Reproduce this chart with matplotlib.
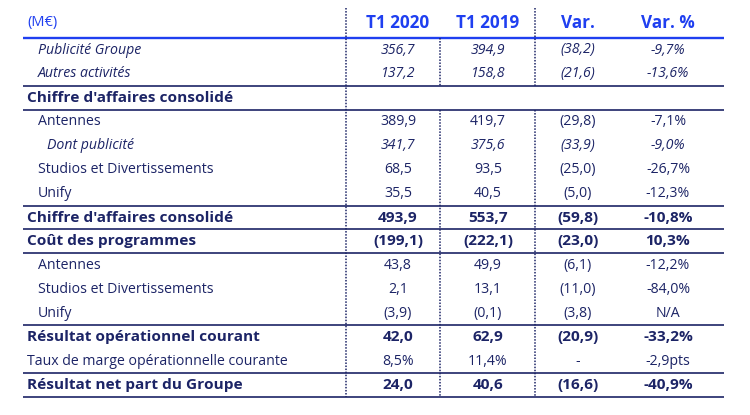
import matplotlib.pyplot as plt

plt.rcParams['font.family'] = ['Open Sans', 'DejaVu Sans']

headers = ['(M€)', 'T1 2020', 'T1 2019', 'Var.', 'Var. %']
labels = ['Publicité Groupe', 'Autres activités', "Chiffre d'affaires consolidé",
          'Antennes', 'Dont publicité', 'Studios et Divertissements', 'Unify',
          "Chiffre d'affaires consolidé", 'Coût des programmes', 'Antennes',
          'Studios et Divertissements', 'Unify', 'Résultat opérationnel courant',
          'Taux de marge opérationnelle courante', 'Résultat net part du Groupe']
t1_2020 = ['356,7', '137,2', '', '389,9', '341,7', '68,5', '35,5', '493,9', '(199,1)',
           '43,8', '2,1', '(3,9)', '42,0', '8,5%', '24,0']
t1_2019 = ['394,9', '158,8', '', '419,7', '375,6', '93,5', '40,5', '553,7', '(222,1)',
           '49,9', '13,1', '(0,1)', '62,9', '11,4%', '40,6']
var_abs = ['(38,2)', '(21,6)', '', '(29,8)', '(33,9)', '(25,0)', '(5,0)', '(59,8)', '(23,0)',
           '(6,1)', '(11,0)', '(3,8)', '(20,9)', '-', '(16,6)']
var_pct = ['-9,7%', '-13,6%', '', '-7,1%', '-9,0%', '-26,7%', '-12,3%', '-10,8%', '10,3%',
           '-12,2%', '-84,0%', 'N/A', '-33,2%', '-2,9pts', '-40,9%']
# style per row: b = bold, i = italic, n = normal ; indent level
styles = ['i', 'i', 'b', 'n', 'i', 'n', 'n', 'b', 'b', 'n', 'n', 'n', 'b', 'n', 'b']
indent = [1, 1, 0, 1, 2, 1, 1, 0, 0, 1, 1, 1, 0, 0, 0]
lines_after = [1, 2, 6, 7, 8, 11, 13, 14]

navy = '#1c2466'
blue = '#1f3ff0'
fs = 10.2

fig = plt.figure(figsize=(7.5, 4.15), dpi=100)
ax = fig.add_axes([0, 0, 1, 1])
ax.set_xlim(0, 750)
ax.set_ylim(415, 0)
ax.axis('off')

col_x = [27, 398, 488, 578, 668]
y0 = 50
pitch = 23.93
hy = 22.5

# header
ax.text(col_x[0], hy, headers[0], color=blue, fontsize=fs + 0.3, va='center', ha='left')
for cx, h in zip(col_x[1:], headers[1:]):
    ax.text(cx, hy, h, color=blue, fontsize=12.3, va='center', ha='center', fontweight='bold')
ax.plot([23, 724], [38.5, 38.5], color=blue, lw=1.7, solid_capstyle='butt')

cols = [t1_2020, t1_2019, var_abs, var_pct]
for i, lab in enumerate(labels):
    y = y0 + i * pitch
    kw = dict(color=navy, fontsize=fs, va='center')
    if styles[i] == 'b':
        kw['fontweight'] = 'bold'
        kw['fontsize'] = 11.1
    elif styles[i] == 'i':
        kw['fontstyle'] = 'italic'
    ax.text(col_x[0] + 11 * min(indent[i], 1) + (9 if indent[i] == 2 else 0), y, lab, ha='left', **kw)
    for cx, col in zip(col_x[1:], cols):
        ax.text(cx, y, col[i], ha='center', **kw)

for i in lines_after:
    yl = y0 + i * pitch + pitch / 2
    ax.plot([23, 724], [yl, yl], color=navy, lw=1.2, solid_capstyle='butt')

ybot = y0 + 14 * pitch + pitch / 2
ygap0 = y0 + 1 * pitch + pitch / 2
ygap1 = y0 + 2 * pitch + pitch / 2
dot = dict(color=navy, lw=1.1, linestyle=(0, (1, 1)))
ax.plot([345.5, 345.5], [8, ybot], **dot)
ax.plot([534.5, 534.5], [8, ygap0], **dot)
ax.plot([534.5, 534.5], [ygap1, ybot], **dot)
ax.plot([440, 440], [38.5, ygap0], **dot)
ax.plot([440, 440], [ygap1, ybot], **dot)

fig.savefig('out.png', dpi=100)
